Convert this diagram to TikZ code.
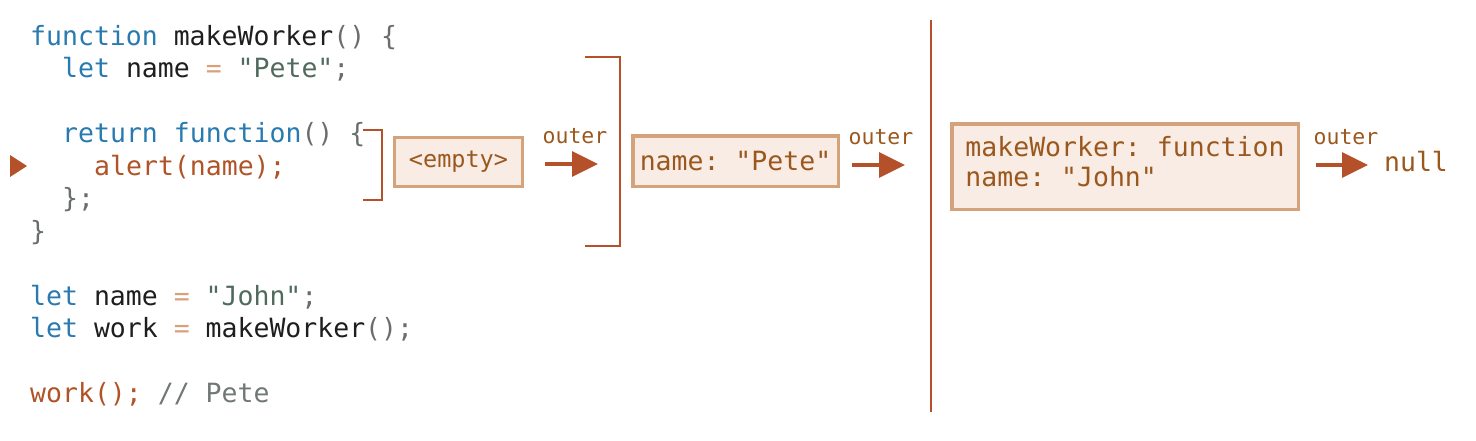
\documentclass[tikz,border=0pt]{standalone}
\usepackage{fontspec}
\setmonofont{DejaVu Sans Mono}
\usepackage{xcolor}
\usepackage{tikz}
\usetikzlibrary{arrows.meta}

\definecolor{kwblue}{RGB}{40,122,176}
\definecolor{identblk}{RGB}{30,30,30}
\definecolor{punctgry}{RGB}{105,110,108}
\definecolor{eqtan}{RGB}{217,160,122}
\definecolor{strgrn}{RGB}{80,106,94}
\definecolor{callbrn}{RGB}{176,84,40}
\definecolor{cmtgry}{RGB}{112,120,116}
\definecolor{arrbrn}{RGB}{180,80,42}
\definecolor{boxline}{RGB}{212,162,123}
\definecolor{boxfill}{RGB}{249,236,229}
\definecolor{boxtext}{RGB}{155,88,30}

\newcommand{\kw}[1]{\textcolor{kwblue}{#1}}
\newcommand{\pu}[1]{\textcolor{punctgry}{#1}}
\newcommand{\eqs}{\textcolor{eqtan}{=}}
\newcommand{\strv}[1]{\textcolor{strgrn}{#1}}
\newcommand{\callv}[1]{\textcolor{callbrn}{#1}}
\newcommand{\cmt}[1]{\textcolor{cmtgry}{#1}}

\tikzset{
  codeline/.style={anchor=base west,inner sep=0pt,text=identblk,font=\ttfamily\fontsize{26.5}{32.5}\selectfont},
  envbox/.style={draw=boxline,fill=boxfill,line width=3.5pt,text=boxtext,inner sep=0pt,font=\ttfamily\fontsize{26.5}{30}\selectfont},
  outerlbl/.style={inner sep=0pt,text=boxtext,font=\ttfamily\fontsize{21.5}{24}\selectfont},
  outarrow/.style={draw=arrbrn,line width=3.5pt,-{Triangle[length=26pt,width=25pt,fill=arrbrn]}},
  bracket/.style={draw=arrbrn,line width=2pt},
}

\begin{document}
\begin{tikzpicture}[x=1pt,y=1pt,yscale=-1,xscale=1]
\useasboundingbox (0,0) rectangle (1476,440);

% Code
\node[codeline] (l1) at (30,45) {\kw{function} makeWorker\pu{()} \pu{\{}};
\node[codeline] (l2) at (62,77.5) {\kw{let} name \eqs{} \strv{"Pete"}\pu{;}};
\node[codeline] (l4) at (62,142.5) {\kw{return} \kw{function}\pu{()} \pu{\{}};
\node[codeline] (l5) at (94,175) {\callv{alert(name);}};
\node[codeline] (l6) at (62,207.5) {\pu{\};}};
\node[codeline] (l7) at (30,240) {\pu{\}}};
\node[codeline] (l9) at (30,305) {\kw{let} name \eqs{} \strv{"John"}\pu{;}};
\node[codeline] (l10) at (30,337.5) {\kw{let} work \eqs{} makeWorker\pu{();}};
\node[codeline] (l12) at (30,402) {\callv{work();} \cmt{// Pete}};

%Shape: current line marker
\fill[arrbrn] (10,155) -- (27,166) -- (10,177) -- cycle;

%Shape: brackets and divider
\draw[bracket] (363,130) -| (382,200) -- (363,200);
\draw[bracket] (585,57) -| (620,246) -- (585,246);
\draw[bracket] (931,20) -- (931,412);

% Environment boxes
\node[envbox,minimum width=128,minimum height=49,font=\ttfamily\fontsize{23.5}{26}\selectfont] (empty) at (458.5,162) {<empty>};
\node[envbox,minimum width=205.5,minimum height=50.5] (pete) at (735.5,161) {name: "Pete"};
\node[envbox,minimum width=346.5,minimum height=85.5,align=left,text depth=11pt] (glob) at (1125,166.5) {makeWorker: function\\name: "John"};
\node[inner sep=0pt,text=boxtext,font=\ttfamily\fontsize{26.5}{30}\selectfont] (null) at (1416,162) {null};

% Outer references
\node[outerlbl] (o1) at (575,136) {outer};
\node[outerlbl] (o2) at (881,137) {outer};
\node[outerlbl] (o3) at (1346,137) {outer};
\coordinate (a1s) at (545,164);
\coordinate (a1e) at (598,164);
\coordinate (a2s) at (852,165);
\coordinate (a2e) at (905,165);
\coordinate (a3s) at (1316,165);
\coordinate (a3e) at (1368,165);
\draw[outarrow] (a1s) -- (a1e);
\draw[outarrow] (a2s) -- (a2e);
\draw[outarrow] (a3s) -- (a3e);
\end{tikzpicture}
\end{document}
